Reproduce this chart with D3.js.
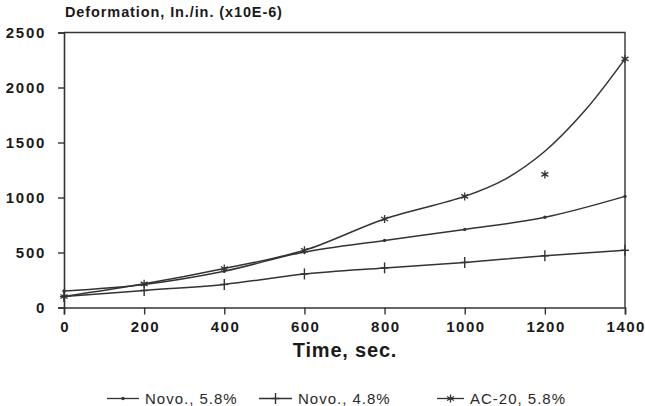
<!DOCTYPE html>
<html><head><meta charset="utf-8">
<script src="https://cdn.jsdelivr.net/npm/d3@7"></script>
<style>
html,body{margin:0;padding:0;background:#fff;}
svg{display:block;}
</style></head>
<body>
<svg id="chart" width="645" height="406"></svg>
<script>
// ---- data ----
const times = [0, 200, 400, 600, 800, 1000, 1200, 1400];
const novo58 = [150, 210, 330, 505, 610, 710, 820, 1010];
const novo48 = [100, 155, 210, 305, 360, 410, 470, 520];
const ac20   = [100, 215, 355, 520, 805, 1010, 1210, 2260];
// fitted curve drawn for AC-20 (does not pass the 1200 s point)
const ac20FitTimes = [0, 200, 400, 600, 800, 1000, 1100, 1200, 1300, 1400];
const ac20FitVals  = [100, 215, 355, 520, 805, 1010, 1165, 1420, 1790, 2260];
const xTicks = [0, 200, 400, 600, 800, 1000, 1200, 1400];
const yTicks = [0, 500, 1000, 1500, 2000, 2500];
const seriesNames = ["Novo., 5.8%", "Novo., 4.8%", "AC-20, 5.8%"];

const ink = "#333";
const svg = d3.select("#chart");
const x = d3.scaleLinear().domain([0, 1400]).range([64, 625]);
const y = d3.scaleLinear().domain([0, 2500]).range([307.5, 32.5]);

const font = "'Liberation Sans', Arial, Helvetica, sans-serif";

// frame (top & right)
svg.append("path")
  .attr("d", `M${x(0)},${y(2500)}H${x(1400)}V${y(0)}`)
  .attr("fill", "none").attr("stroke", ink).attr("stroke-width", 1.4);

// x axis
const xAxis = svg.append("g").attr("transform", `translate(0,${y(0)})`)
  .call(d3.axisBottom(x).tickValues(xTicks).tickSize(7).tickPadding(7).tickFormat(d3.format("d")));
xAxis.select(".domain").attr("stroke", ink).attr("stroke-width", 1.6);
xAxis.selectAll(".tick line").attr("stroke", ink).attr("stroke-width", 1.4);
xAxis.selectAll(".tick text").attr("fill", "#1a1a1a")
  .style("font-family", font).style("font-weight", "bold").style("font-size", "15px")
  .style("letter-spacing", "1.5px").attr("dx", "0.75px");

// y axis
const yAxis = svg.append("g").attr("transform", `translate(${x(0)},0)`)
  .call(d3.axisLeft(y).tickValues(yTicks).tickSize(6).tickPadding(12).tickFormat(d3.format("d")));
yAxis.select(".domain").attr("stroke", ink).attr("stroke-width", 1.6);
yAxis.selectAll(".tick line").attr("stroke", ink).attr("stroke-width", 1.4);
yAxis.selectAll(".tick text").attr("fill", "#1a1a1a")
  .style("font-family", font).style("font-weight", "bold").style("font-size", "15px")
  .style("letter-spacing", "1.7px").attr("dy", "0.36em");

// titles
svg.append("text").attr("x", 65).attr("y", 16.5)
  .style("font-family", font).style("font-weight", "bold").style("font-size", "14.5px")
  .style("letter-spacing", "0.9px").attr("fill", "#1a1a1a")
  .text("Deformation, In./in. (x10E-6)");
svg.append("text").attr("x", 345).attr("y", 357).attr("text-anchor", "middle")
  .style("font-family", font).style("font-weight", "bold").style("font-size", "20px")
  .style("letter-spacing", "0.8px").attr("fill", "#1a1a1a")
  .text("Time, sec.");

// lines
const line = d3.line().x(d => x(d[0])).y(d => y(d[1])).curve(d3.curveCatmullRom.alpha(0.5));
const pts = vals => times.map((t, i) => [t, vals[i]]);
const series = [
  {vals: novo58, curve: pts(novo58), mark: "dot"},
  {vals: novo48, curve: pts(novo48), mark: "plus"},
  {vals: ac20, curve: ac20FitTimes.map((t, i) => [t, ac20FitVals[i]]), mark: "star"}
];

const g = svg.append("g");
series.forEach(s => {
  g.append("path").attr("d", line(s.curve))
    .attr("fill", "none").attr("stroke", ink).attr("stroke-width", 1.5);
});

function drawMarker(sel, type, cx, cy) {
  if (type === "dot") {
    sel.append("circle").attr("cx", cx).attr("cy", cy).attr("r", 1.7).attr("fill", ink);
  } else if (type === "plus") {
    sel.append("line").attr("x1", cx).attr("x2", cx).attr("y1", cy - 5.5).attr("y2", cy + 5.5)
      .attr("stroke", ink).attr("stroke-width", 1.4);
    sel.append("line").attr("x1", cx - 4).attr("x2", cx + 4).attr("y1", cy).attr("y2", cy)
      .attr("stroke", ink).attr("stroke-width", 1.4);
  } else {
    sel.append("path").attr("transform", `translate(${cx},${cy})`)
      .attr("d", d3.symbol().type(d3.symbolAsterisk).size(45)())
      .attr("fill", "none").attr("stroke", ink).attr("stroke-width", 1.3);
  }
}

series.forEach(s => {
  times.forEach((t, i) => drawMarker(g, s.mark, x(t), y(s.vals[i])));
});

// legend
const legendX = [107, 259, 437];
const legendLen = [32, 33, 27];
const legendY = 398.5;
series.forEach((s, i) => {
  const lg = svg.append("g");
  lg.append("line").attr("x1", legendX[i]).attr("x2", legendX[i] + legendLen[i])
    .attr("y1", legendY).attr("y2", legendY).attr("stroke", ink).attr("stroke-width", 1.3);
  drawMarker(lg, s.mark, legendX[i] + legendLen[i] / 2, legendY);
  lg.append("text").attr("x", legendX[i] + legendLen[i] + 6).attr("y", 403.5)
    .style("font-family", font).style("font-size", "15px").style("letter-spacing", "1px")
    .attr("fill", "#2a2a2a").text(seriesNames[i]);
});
</script>
</body></html>
